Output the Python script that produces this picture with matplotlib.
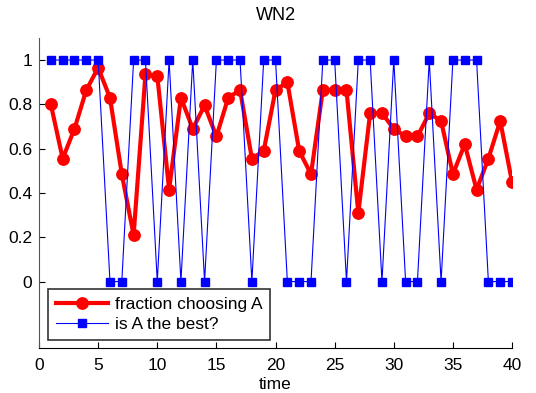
import matplotlib
matplotlib.use("Agg")
import matplotlib.pyplot as plt

time = list(range(1, 41))
fraction_a = [0.80, 0.555, 0.69, 0.865, 0.965, 0.83, 0.485, 0.21, 0.935, 0.93,
              0.415, 0.83, 0.69, 0.795, 0.655, 0.83, 0.865, 0.555, 0.59, 0.865,
              0.90, 0.59, 0.485, 0.865, 0.865, 0.865, 0.31, 0.76, 0.76, 0.69,
              0.655, 0.655, 0.76, 0.725, 0.485, 0.62, 0.415, 0.555, 0.725, 0.45]
a_best = [1, 1, 1, 1, 1, 0, 0, 1, 1, 0,
          1, 0, 1, 0, 1, 1, 1, 0, 1, 1,
          0, 0, 0, 1, 1, 0, 1, 1, 0, 1,
          0, 0, 1, 0, 1, 1, 1, 0, 0, 0]

plt.rcParams.update({
    'font.family': 'Liberation Sans',
    'font.size': 12.5,
    'xtick.direction': 'in',
    'ytick.direction': 'in',
})

fig = plt.figure(figsize=(5.36, 3.93), dpi=100)
ax = fig.add_axes([0.0728, 0.1145, 0.8825, 0.789])

ax.plot(time, fraction_a, color='red', linewidth=3, marker='o',
        markersize=8.2, label='fraction choosing A')
ax.plot(time, a_best, color='blue', linewidth=0.8, marker='s',
        markersize=5.3, label='is A the best?')

ax.set_xlim(0, 40)
ax.set_ylim(-0.3, 1.1)
ax.set_xticks(range(0, 41, 5))
ax.set_yticks([0, 0.2, 0.4, 0.6, 0.8, 1])
ax.set_yticklabels(['0', '0.2', '0.4', '0.6', '0.8', '1'])
ax.spines['top'].set_visible(False)
ax.spines['right'].set_visible(False)
ax.spines['left'].set_color('#555555')
ax.tick_params(length=4, labelsize=12.5)
ax.tick_params(axis='x', pad=7)
ax.tick_params(axis='y', pad=5)
ax.set_xlabel('time', fontsize=12.5, labelpad=3)
ax.set_title('WN2', fontsize=13, pad=13)

leg = ax.legend(loc='lower left', bbox_to_anchor=(0.019, 0.026), borderaxespad=0,
                fancybox=False, edgecolor='black', fontsize=12.5,
                handlelength=3.0, handletextpad=0.4, borderpad=0.45,
                labelspacing=0.3)
leg.get_frame().set_linewidth(1.2)

plt.savefig('out.png', dpi=100)
